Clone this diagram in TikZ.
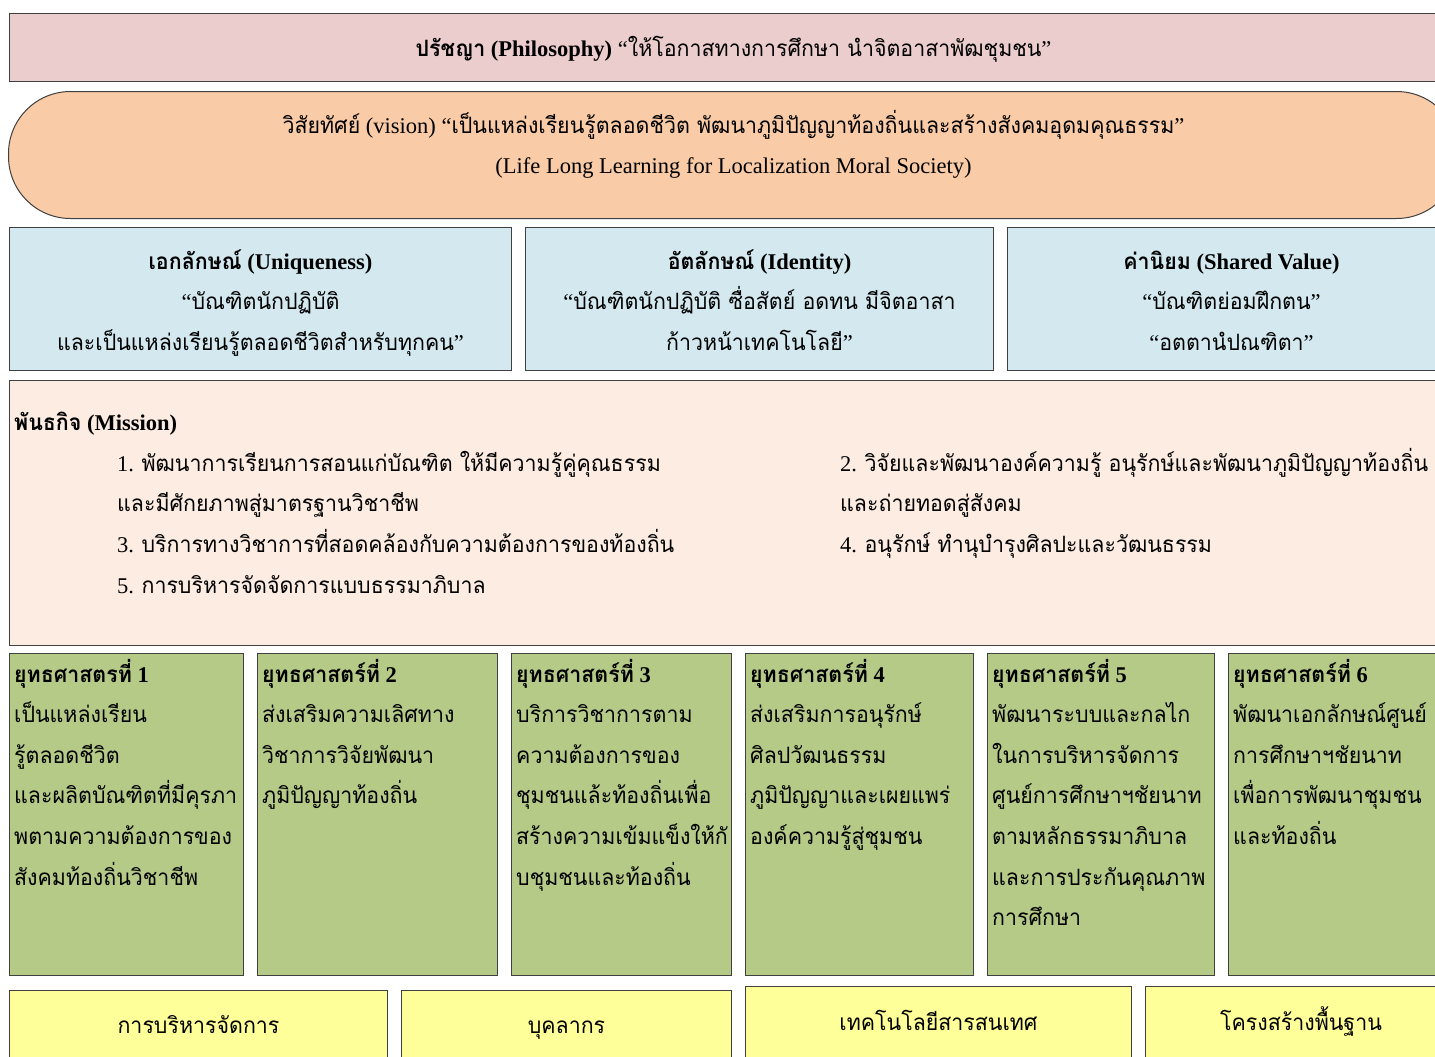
\documentclass[tikz,border=0pt]{standalone}
\usepackage{fontspec}
\setmainfont{Liberation Serif}
\newfontfamily\thaifont[Script=Thai, FakeStretch=0.95]{Loma}
\usetikzlibrary{positioning, calc}

\definecolor{philpink}{RGB}{236,205,205}
\definecolor{visionpeach}{RGB}{249,203,167}
\definecolor{idblue}{RGB}{211,233,239}
\definecolor{missionbg}{RGB}{252,236,226}
\definecolor{stratgreen}{RGB}{182,202,136}
\definecolor{baseyellow}{RGB}{255,255,153}

\tikzstyle{box} = [draw=black!75, line width=1pt, anchor=north west, inner sep=0pt]
\tikzstyle{txt} = [inner sep=0pt, font=\fontsize{22.5}{40.6}\selectfont, execute at begin node=\strut]
\tikzstyle{ctxt} = [txt, anchor=north, align=center]
\tikzstyle{ltxt} = [txt, anchor=north west, align=left]
\tikzstyle{stratbox} = [box, fill=stratgreen, minimum height=322pt]
\tikzstyle{basebox} = [box, fill=baseyellow, minimum height=80pt]

\begin{document}
\begin{tikzpicture}[x=1pt, y=-1pt]
    \useasboundingbox (0,0) rectangle (1435,1057);
    \clip (0,0) rectangle (1435,1057);

    % Philosophy
    \node[box, fill=philpink, minimum width=1448pt, minimum height=68pt] (phil) at (9,13) {};
    \node[ctxt] (philtxt) at ([yshift=-14.6pt]phil.north)
        {{\bfseries\thaifont ปรัชญา} \textbf{(Philosophy)} “{\thaifont ให้โอกาสทางการศึกษา นำจิตอาสาพัฒชุมชน}”};

    % Vision
    \node[box, fill=visionpeach, rounded corners=62pt, minimum width=1450pt, minimum height=127pt] (vision) at (8,91) {};
    \node[ctxt] (visiontxt) at ([yshift=-13.6pt]vision.north)
        {\strut{\thaifont วิสัยทัศย์} (vision) “{\thaifont เป็นแหล่งเรียนรู้ตลอดชีวิต พัฒนาภูมิปัญญาท้องถิ่นและสร้างสังคมอุดมคุณธรรม}”\\
         (Life Long Learning for Localization Moral Society)};

    % Uniqueness, identity, shared value
    \node[box, fill=idblue, minimum width=502pt, minimum height=143pt] (uniq) at (9,227) {};
    \node[box, fill=idblue, minimum width=468pt, minimum height=143pt] (ident) at (525,227) {};
    \node[box, fill=idblue, minimum width=448pt, minimum height=143pt] (value) at (1007,227) {};
    \node[ctxt] (uniqtxt) at ([yshift=-13.6pt]uniq.north)
        {\strut{\bfseries\thaifont เอกลักษณ์} \textbf{(Uniqueness)}\\
         “{\thaifont บัณฑิตนักปฏิบัติ}\\
         {\thaifont และเป็นแหล่งเรียนรู้ตลอดชีวิตสำหรับทุกคน}”};
    \node[ctxt] (identtxt) at ([yshift=-13.6pt]ident.north)
        {\strut{\bfseries\thaifont อัตลักษณ์} \textbf{(Identity)}\\
         “{\thaifont บัณฑิตนักปฏิบัติ ซื่อสัตย์ อดทน มีจิตอาสา}\\
         {\thaifont ก้าวหน้าเทคโนโลยี}”};
    \node[ctxt] (valuetxt) at ([yshift=-13.6pt]value.north)
        {\strut{\bfseries\thaifont ค่านิยม} \textbf{(Shared Value)}\\
         “{\thaifont บัณฑิตย่อมฝึกตน}”\\
         “{\thaifont อตตานํปณฑิตา}”};

    % Mission
    \node[box, fill=missionbg, minimum width=1448pt, minimum height=265pt] (mission) at (9,380) {};
    \node[ltxt] (missionhead) at ([shift={(5pt,-21.6pt)}]mission.north west)
        {{\bfseries\thaifont พันธกิจ} \textbf{(Mission)}};
    \node[ltxt] (missionleft) at ([shift={(108pt,-62.6pt)}]mission.north west)
        {\strut 1. {\thaifont พัฒนาการเรียนการสอนแก่บัณฑิต ให้มีความรู้คู่คุณธรรม}\\
         {\thaifont และมีศักยภาพสู่มาตรฐานวิชาชีพ}\\
         3. {\thaifont บริการทางวิชาการที่สอดคล้องกับความต้องการของท้องถิ่น}\\
         5. {\thaifont การบริหารจัดจัดการแบบธรรมาภิบาล}};
    \node[ltxt] (missionright) at ([shift={(831pt,-62.6pt)}]mission.north west)
        {\strut 2. {\thaifont วิจัยและพัฒนาองค์ความรู้ อนุรักษ์และพัฒนาภูมิปัญญาท้องถิ่น}\\
         {\thaifont และถ่ายทอดสู่สังคม}\\
         4. {\thaifont อนุรักษ์ ทำนุบำรุงศิลปะและวัฒนธรรม}};

    % Strategies
    \node[stratbox, minimum width=234pt] (st1) at (9,653) {};
    \node[stratbox, minimum width=240pt] (st2) at (257,653) {};
    \node[stratbox, minimum width=220pt] (st3) at (511,653) {};
    \node[stratbox, minimum width=228pt] (st4) at (745,653) {};
    \node[stratbox, minimum width=227pt] (st5) at (987,653) {};
    \node[stratbox, minimum width=229pt] (st6) at (1228,653) {};
    \node[ltxt] (st1txt) at ([shift={(5pt,-0.5pt)}]st1.north west)
        {\strut{\bfseries\thaifont ยุทธศาสตรที่} \textbf{1}\\
         {\thaifont เป็นแหล่งเรียน}\\
         {\thaifont รู้ตลอดชีวิต}\\
         {\thaifont และผลิตบัณฑิตที่มีคุรภา}\\
         {\thaifont พตามความต้องการของ}\\
         {\thaifont สังคมท้องถิ่นวิชาชีพ}};
    \node[ltxt] (st2txt) at ([shift={(5pt,-0.5pt)}]st2.north west)
        {\strut{\bfseries\thaifont ยุทธศาสตร์ที่} \textbf{2}\\
         {\thaifont ส่งเสริมความเลิศทาง}\\
         {\thaifont วิชาการวิจัยพัฒนา}\\
         {\thaifont ภูมิปัญญาท้องถิ่น}};
    \node[ltxt] (st3txt) at ([shift={(5pt,-0.5pt)}]st3.north west)
        {\strut{\bfseries\thaifont ยุทธศาสตร์ที่} \textbf{3}\\
         {\thaifont บริการวิชาการตาม}\\
         {\thaifont ความต้องการของ}\\
         {\thaifont ชุมชนแล้ะท้องถิ่นเพื่อ}\\
         {\thaifont สร้างความเข้มแข็งให้กั}\\
         {\thaifont บชุมชนและท้องถิ่น}};
    \node[ltxt] (st4txt) at ([shift={(5pt,-0.5pt)}]st4.north west)
        {\strut{\bfseries\thaifont ยุทธศาสตร์ที่} \textbf{4}\\
         {\thaifont ส่งเสริมการอนุรักษ์}\\
         {\thaifont ศิลปวัฒนธรรม}\\
         {\thaifont ภูมิปัญญาและเผยแพร่}\\
         {\thaifont องค์ความรู้สู่ชุมชน}};
    \node[ltxt] (st5txt) at ([shift={(5pt,-0.5pt)}]st5.north west)
        {\strut{\bfseries\thaifont ยุทธศาสตร์ที่} \textbf{5}\\
         {\thaifont พัฒนาระบบและกลไก}\\
         {\thaifont ในการบริหารจัดการ}\\
         {\thaifont ศูนย์การศึกษาฯชัยนาท}\\
         {\thaifont ตามหลักธรรมาภิบาล}\\
         {\thaifont และการประกันคุณภาพ}\\
         {\thaifont การศึกษา}};
    \node[ltxt] (st6txt) at ([shift={(5pt,-0.5pt)}]st6.north west)
        {\strut{\bfseries\thaifont ยุทธศาสตร์ที่} \textbf{6}\\
         {\thaifont พัฒนาเอกลักษณ์ศูนย์}\\
         {\thaifont การศึกษาฯชัยนาท}\\
         {\thaifont เพื่อการพัฒนาชุมชน}\\
         {\thaifont และท้องถิ่น}};

    % Foundations
    \node[basebox, minimum width=378pt] (admin) at (9,990) {};
    \node[basebox, minimum width=330pt] (staff) at (401,990) {};
    \node[basebox, minimum width=386pt] (tech) at (745,986) {};
    \node[basebox, minimum width=311pt] (infra) at (1145,986) {};
    \node[ctxt] (admintxt) at ([yshift=-15.1pt]admin.north) {\thaifont การบริหารจัดการ};
    \node[ctxt] (stafftxt) at ([yshift=-15.1pt]staff.north) {\thaifont บุคลากร};
    \node[ctxt] (techtxt) at ([yshift=-16.1pt]tech.north) {\thaifont เทคโนโลยีสารสนเทศ};
    \node[ctxt] (infratxt) at ([yshift=-16.1pt]infra.north) {\thaifont โครงสร้างพื้นฐาน};
\end{tikzpicture}
\end{document}
